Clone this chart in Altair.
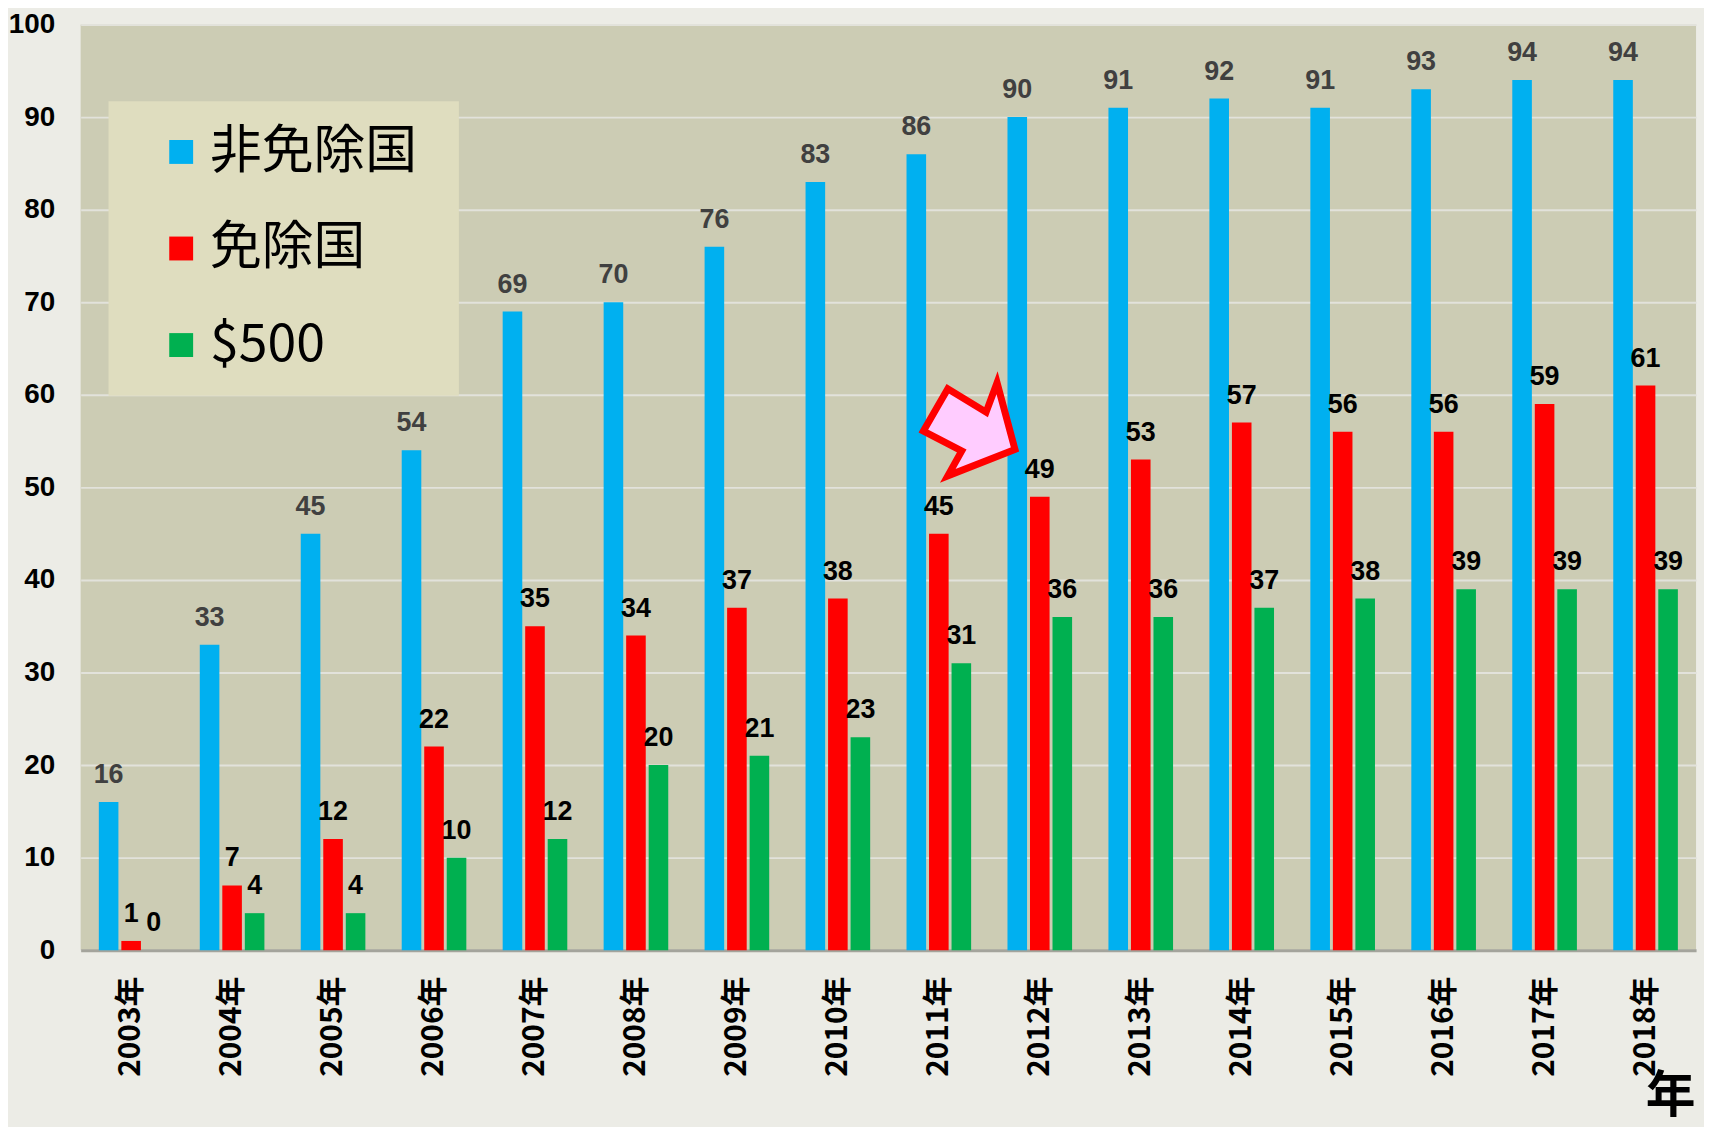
import altair as alt
import pandas as pd

YEARS = [f"{y}年" for y in range(2003, 2019)]
SERIES = ["非免除国", "免除国", "$500"]
NON_EXEMPT = [16, 33, 45, 54, 69, 70, 76, 83, 86, 90, 91, 92, 91, 93, 94, 94]
EXEMPT = [1, 7, 12, 22, 35, 34, 37, 38, 45, 49, 53, 57, 56, 56, 59, 61]
USD500 = [0, 4, 4, 10, 12, 20, 21, 23, 31, 36, 36, 37, 38, 39, 39, 39]
COLORS = ["#00B0F0", "#FF0000", "#00B050"]
Y_TICKS = list(range(0, 101, 10))
ARROW_YEAR = ["2011年"]
ARROW_VALUE = [56.3]
ARROW_PATH = "M-0.91,0.04 L-0.42,-0.81 L0.35,-0.34 L0.57,-0.93 L0.93,0.41 L-0.42,0.94 L-0.14,0.44 Z"

rows = []
for s, vals in zip(SERIES, [NON_EXEMPT, EXEMPT, USD500]):
    for yr, v in zip(YEARS, vals):
        rows.append({"year": yr, "series": s, "value": v})
df = pd.DataFrame(rows)
arrow_df = pd.DataFrame({"year": ARROW_YEAR, "value": ARROW_VALUE})

NUM_FONT = "Liberation Sans"
CJK_FONT = "Noto Sans CJK JP"

x_enc = alt.X(
    "year:N",
    sort=YEARS,
    scale=alt.Scale(paddingInner=0.36, paddingOuter=0.18),
    axis=alt.Axis(
        labelAngle=270,
        labelAlign="right",
        labelBaseline="middle",
        labelFontSize=30,
        labelFont=CJK_FONT,
        labelFontWeight="bold",
        labelColor="black",
        labelPadding=26,
        ticks=False,
        grid=False,
        domainColor="#A4A49C",
        domainWidth=3,
        title="年",
        titleFont=CJK_FONT,
        titleFontSize=50,
        titleFontWeight="bold",
        titleColor="black",
        titleAngle=0,
        titleAlign="right",
        titleBaseline="top",
        titleX=1622,
        titleY=122,
    ),
)
y_enc = alt.Y(
    "value:Q",
    scale=alt.Scale(domain=[0, 100], nice=False),
    axis=alt.Axis(
        values=Y_TICKS,
        labelFontSize=28,
        labelFont=NUM_FONT,
        labelFontWeight="bold",
        labelColor="black",
        labelPadding=26,
        ticks=False,
        domain=False,
        grid=True,
        gridColor="#E2E2DB",
        gridWidth=2,
        title=None,
    ),
)
xoff = alt.XOffset(
    "series:N", sort=SERIES, scale=alt.Scale(paddingInner=0.13, paddingOuter=0)
)

bars = alt.Chart(df).mark_bar().encode(
    x=x_enc,
    y=y_enc,
    xOffset=xoff,
    color=alt.Color(
        "series:N",
        sort=SERIES,
        scale=alt.Scale(domain=SERIES, range=COLORS),
        legend=alt.Legend(
            orient="none",
            legendX=28,
            legendY=77,
            title=".",
            titleOrient="right",
            titleOpacity=0,
            titleFontSize=8,
            titlePadding=14,
            fillColor="#DFDDBF",
            padding=25,
            symbolType="square",
            symbolSize=576,
            symbolStrokeWidth=0,
            symbolOffset=22,
            labelFont=CJK_FONT,
            labelFontSize=52,
            labelColor="black",
            labelOffset=3,
            rowPadding=45,
            labelLimit=400,
        ),
    ),
)

labels = alt.Chart(df).mark_text(
    baseline="alphabetic", align="center", dy=-19, fontSize=27,
    font=NUM_FONT, fontWeight="bold"
).encode(
    x=alt.X("year:N", sort=YEARS),
    y=alt.Y("value:Q"),
    xOffset=alt.XOffset("series:N", sort=SERIES),
    text=alt.Text("value:Q"),
    color=alt.condition(
        alt.datum.series == "非免除国", alt.value("#404040"), alt.value("black")
    ),
)

arrow = alt.Chart(arrow_df).mark_point(
    shape=ARROW_PATH, size=10000, filled=True, fill="#FFCCFF",
    stroke="#FF0000", strokeWidth=7, opacity=1, fillOpacity=1, xOffset=30
).encode(
    x=alt.X("year:N", sort=YEARS),
    y=alt.Y("value:Q"),
)

chart = (
    alt.layer(bars, labels, arrow)
    .properties(
        width=1623,
        height=930,
        autosize=alt.AutoSizeParams(type="none"),
        padding={"left": 73, "top": 14, "right": 8, "bottom": 175},
        background="#ECECE6",
    )
    .configure_view(fill="#CCCCB4", stroke=None)
)

chart.save("out.html", embed_options={"renderer": "svg", "actions": False})
